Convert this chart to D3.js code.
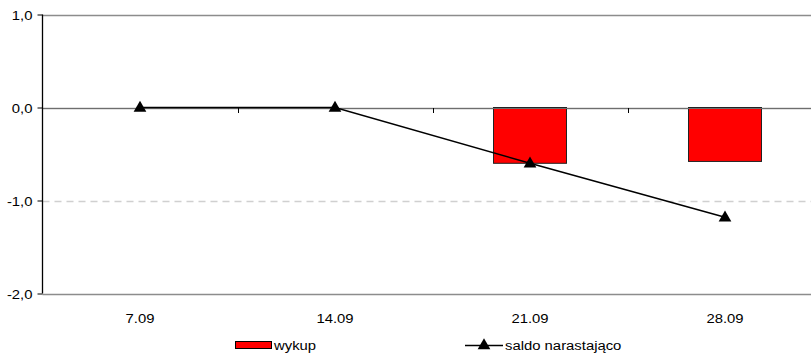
<!DOCTYPE html>
<html>
<head>
<meta charset="utf-8">
<script src="https://cdn.jsdelivr.net/npm/d3@7"></script>
<style>
  html, body { margin: 0; padding: 0; background: #fff; }
  svg { display: block; font-family: "Liberation Sans", Arial, sans-serif; }
</style>
</head>
<body>
<svg id="chart" width="811" height="355"></svg>
<script>
// Weekly dates
const categories = ["7.09", "14.09", "21.09", "28.09"];
// Redemptions (bars)
const wykup = [0, 0, -0.60, -0.58];
// Cumulative balance (line)
const saldo = [0, 0, -0.60, -1.18];
// Y axis ticks
const yTicks = [1, 0, -1, -2];
const seriesNames = ["wykup", "saldo narastająco"];

const svg = d3.select("#chart");
const plotL = 42.5, plotR = 822.5, plotT = 14.5, plotB = 293.5;
const fontSize = 13.5, stretch = 1.1;

const x = d3.scaleBand().domain(categories).range([plotL, plotR]).paddingInner(0).paddingOuter(0);
const y = d3.scaleLinear().domain([-2, 1]).range([plotB, plotT]);
const fmt = v => d3.format(".1f")(v).replace(".", ",").replace("−", "-");

// Slightly widened text used for all labels
function label(g, px, py, anchor, str) {
  return g.append("text")
    .attr("transform", `translate(${px},${py}) scale(${stretch},1)`)
    .attr("text-anchor", anchor)
    .attr("font-size", fontSize)
    .attr("fill", "#000")
    .text(str);
}

// Horizontal gridlines
svg.append("g").selectAll("line").data(yTicks).join("line")
  .attr("x1", plotL).attr("x2", plotR)
  .attr("y1", d => Math.round(y(d)) + 0.5).attr("y2", d => Math.round(y(d)) + 0.5)
  .attr("stroke", d => d === -1 ? "#d0d0d0" : "#8c8c8c")
  .attr("stroke-width", 1.3)
  .attr("stroke-dasharray", d => d === -1 ? "7,5" : null);

// Bars
const barW = 73;
svg.append("g").selectAll("rect").data(categories.map((c, i) => ({c, v: wykup[i]})).filter(d => d.v !== 0))
  .join("rect")
  .attr("x", d => x(d.c) + x.bandwidth() / 2 - barW / 2)
  .attr("y", d => y(0))
  .attr("width", barW)
  .attr("height", d => y(d.v) - y(0))
  .attr("fill", "#ff0000")
  .attr("stroke", "#222")
  .attr("stroke-width", 1);

// Zero line over the bars
svg.append("line")
  .attr("x1", plotL).attr("x2", plotR)
  .attr("y1", Math.round(y(0)) + 0.5).attr("y2", Math.round(y(0)) + 0.5)
  .attr("stroke", "#6e6e6e").attr("stroke-width", 1.2);

// Category tick marks on the zero line
svg.append("g").selectAll("line").data(categories.slice(1)).join("line")
  .attr("x1", d => Math.round(x(d)) + 0.5).attr("x2", d => Math.round(x(d)) + 0.5)
  .attr("y1", Math.round(y(0))).attr("y2", Math.round(y(0)) + 5)
  .attr("stroke", "#000").attr("stroke-width", 1);

// Y axis line and ticks
const yAxis = d3.axisLeft(y).tickValues(yTicks).tickSize(5).tickFormat("");
const gy = svg.append("g").attr("transform", `translate(${plotL},0)`).call(yAxis);
gy.select(".domain").attr("stroke", "#000").attr("stroke-width", 1.3)
  .attr("d", `M0,${plotT}V${plotB}`);
gy.selectAll(".tick line").attr("stroke", "#000");

// Y tick labels
const gyl = svg.append("g");
yTicks.forEach(v => label(gyl, 32.5, y(v) + 5, "end", fmt(v)));

// Category labels
const gxl = svg.append("g");
categories.forEach(c => label(gxl, x(c) + x.bandwidth() / 2, 322.5, "middle", c));

// Line series
const line = d3.line().x((d, i) => x(categories[i]) + x.bandwidth() / 2).y(d => y(d));
svg.append("path").datum(saldo)
  .attr("d", line).attr("fill", "none").attr("stroke", "#000").attr("stroke-width", 1.5);

const tri = d3.symbol().type(d3.symbolTriangle).size(70);
svg.append("g").selectAll("path").data(saldo).join("path")
  .attr("transform", (d, i) => `translate(${x(categories[i]) + x.bandwidth() / 2},${y(d) + 0.5})`)
  .attr("d", tri).attr("fill", "#000");

// Legend
const lg = svg.append("g");
lg.append("rect").attr("x", 235.5).attr("y", 341.5).attr("width", 36).attr("height", 7)
  .attr("fill", "#ff0000").attr("stroke", "#000").attr("stroke-width", 1);
label(lg, 274, 349.5, "start", seriesNames[0]);
lg.append("line").attr("x1", 465).attr("x2", 503).attr("y1", 345.5).attr("y2", 345.5)
  .attr("stroke", "#000").attr("stroke-width", 1.5);
lg.append("path").attr("transform", "translate(484,345.5)").attr("d", tri).attr("fill", "#000");
label(lg, 505, 349.5, "start", seriesNames[1]);
</script>
</body>
</html>
